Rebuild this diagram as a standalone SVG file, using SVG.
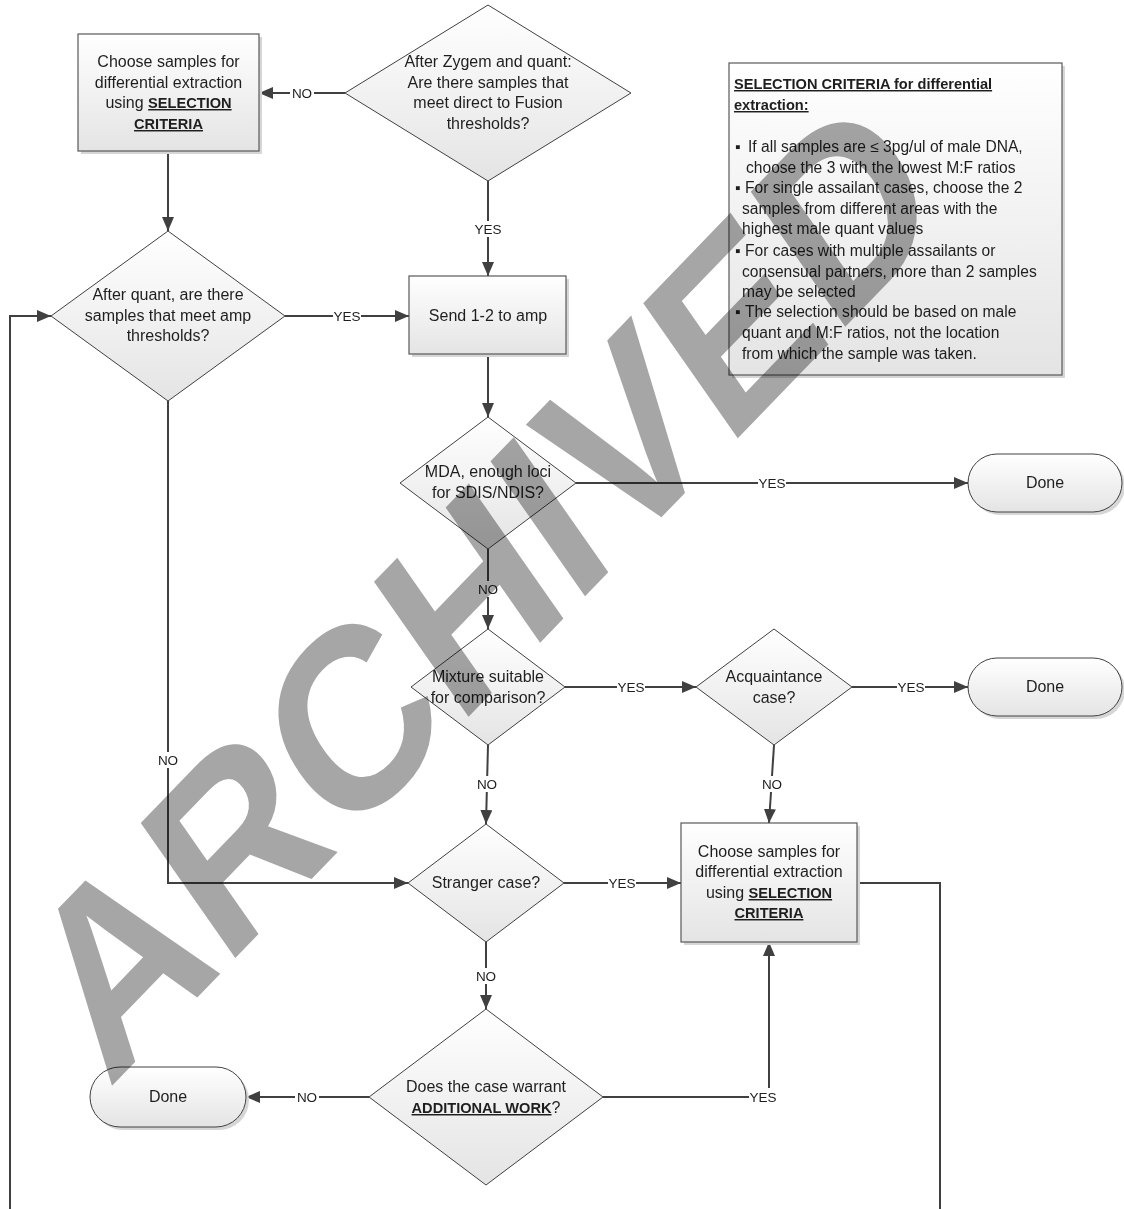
<svg xmlns="http://www.w3.org/2000/svg" width="1124" height="1209" viewBox="0 0 1124 1209">
<defs>
<linearGradient id="gFill" x1="0" y1="0" x2="0" y2="1">
<stop offset="0" stop-color="#ffffff"/>
<stop offset="1" stop-color="#e4e4e4"/>
</linearGradient>
<marker id="arr" markerUnits="userSpaceOnUse" markerWidth="14" markerHeight="12" refX="14" refY="6" orient="auto">
<path d="M0,0 L14,6 L0,12 z" fill="#404040"/>
</marker>
</defs>
<style>
.box{fill:url(#gFill);stroke:#595959;stroke-width:1.2}
.dia{fill:url(#gFill);stroke:#404040;stroke-width:1}
.term{fill:url(#gFill);stroke:#404040;stroke-width:1}
.shadow{fill:#d6d6d6}
.t{font-family:"Liberation Sans",Arial,sans-serif;font-size:16px;fill:#1e1e1e;text-anchor:middle}
.c{font-family:"Liberation Sans",Arial,"DejaVu Sans",sans-serif;font-size:15.6px;fill:#1e1e1e}
.ct{font-size:14.6px}
.b{font-weight:bold;text-decoration:underline}
.t .b{font-size:14.6px}
.con{fill:none;stroke:#404040;stroke-width:2}
.lb{fill:#ffffff}
.lt{font-family:"Liberation Sans",Arial,sans-serif;font-size:13.5px;fill:#1e1e1e;text-anchor:middle}
.wm{font-family:"Liberation Sans",Arial,sans-serif;font-weight:bold;font-size:212px;fill:#a6a6a6;mix-blend-mode:multiply}
</style>
<rect width="1124" height="1209" fill="#ffffff"/>

<g id="connectors">
<path class="con" d="M345,93 H259" marker-end="url(#arr)"/>
<path class="con" d="M168,151 V231" marker-end="url(#arr)"/>
<path class="con" d="M488,181 V276" marker-end="url(#arr)"/>
<path class="con" d="M285,316 H409" marker-end="url(#arr)"/>
<path class="con" d="M488,354 V417" marker-end="url(#arr)"/>
<path class="con" d="M576,483 H968" marker-end="url(#arr)"/>
<path class="con" d="M488,549 V629" marker-end="url(#arr)"/>
<path class="con" d="M565,687 H696" marker-end="url(#arr)"/>
<path class="con" d="M852,687 H968" marker-end="url(#arr)"/>
<path class="con" d="M488,745 L486,824" marker-end="url(#arr)"/>
<path class="con" d="M774,745 L769,823" marker-end="url(#arr)"/>
<path class="con" d="M168,401 V883 H408" marker-end="url(#arr)"/>
<path class="con" d="M564,883 H681" marker-end="url(#arr)"/>
<path class="con" d="M486,942 V1009" marker-end="url(#arr)"/>
<path class="con" d="M369,1097 H246" marker-end="url(#arr)"/>
<path class="con" d="M603,1097 H769 V942" marker-end="url(#arr)"/>
<path class="con" d="M857,883 H940 V1209"/>
<path class="con" d="M10,1209 V316 H51" marker-end="url(#arr)"/>
<g id="labels">
<rect class="lb" x="290" y="85" width="24" height="16"/><text class="lt" x="302" y="98">NO</text>
<rect class="lb" x="474" y="221" width="28" height="16"/><text class="lt" x="488" y="234">YES</text>
<rect class="lb" x="333" y="308" width="28" height="16"/><text class="lt" x="347" y="321">YES</text>
<rect class="lb" x="758" y="475" width="28" height="16"/><text class="lt" x="772" y="488">YES</text>
<rect class="lb" x="476" y="581" width="24" height="16"/><text class="lt" x="488" y="594">NO</text>
<rect class="lb" x="617" y="679" width="28" height="16"/><text class="lt" x="631" y="692">YES</text>
<rect class="lb" x="897" y="679" width="28" height="16"/><text class="lt" x="911" y="692">YES</text>
<rect class="lb" x="475" y="776" width="24" height="16"/><text class="lt" x="487" y="789">NO</text>
<rect class="lb" x="760" y="776" width="24" height="16"/><text class="lt" x="772" y="789">NO</text>
<rect class="lb" x="156" y="752" width="24" height="16"/><text class="lt" x="168" y="765">NO</text>
<rect class="lb" x="608" y="875" width="28" height="16"/><text class="lt" x="622" y="888">YES</text>
<rect class="lb" x="474" y="968" width="24" height="16"/><text class="lt" x="486" y="981">NO</text>
<rect class="lb" x="295" y="1089" width="24" height="16"/><text class="lt" x="307" y="1102">NO</text>
<rect class="lb" x="749" y="1088" width="29" height="17"/><text class="lt" x="763" y="1102">YES</text>
</g>
</g>

<g id="box-choose-1">
<rect class="shadow" x="81" y="37" width="181" height="117"/>
<rect class="box" x="78" y="34" width="181" height="117"/>
<text class="t" x="168.5" y="67">Choose samples for</text>
<text class="t" x="168.5" y="88">differential extraction</text>
<text class="t" x="168.5" y="108">using <tspan class="b">SELECTION</tspan></text>
<text class="t" x="168.5" y="129"><tspan class="b">CRITERIA</tspan></text>
</g>

<g id="dec-zygem">
<polygon class="dia" points="488,5 631,93 488,181 345,93"/>
<text class="t" x="488" y="67">After Zygem and quant:</text>
<text class="t" x="488" y="88">Are there samples that</text>
<text class="t" x="488" y="108">meet direct to Fusion</text>
<text class="t" x="488" y="129">thresholds?</text>
</g>

<g id="criteria">
<rect class="shadow" x="732" y="66" width="333" height="312"/>
<rect class="box" x="729" y="63" width="333" height="312"/>
<text class="c ct b" x="734" y="89">SELECTION CRITERIA for differential</text>
<text class="c ct b" x="734" y="110">extraction:</text>
<text class="c" x="735" y="152">▪</text><text class="c" x="748" y="152">If all samples are ≤ 3pg/ul of male DNA,</text>
<text class="c" x="746" y="173">choose the 3 with the lowest M:F ratios</text>
<text class="c" x="735" y="193">▪</text><text class="c" x="745" y="193">For single assailant cases, choose the 2</text>
<text class="c" x="742" y="214">samples from different areas with the</text>
<text class="c" x="742" y="234">highest male quant values</text>
<text class="c" x="735" y="256">▪</text><text class="c" x="745" y="256">For cases with multiple assailants or</text>
<text class="c" x="742" y="277">consensual partners, more than 2 samples</text>
<text class="c" x="742" y="297">may be selected</text>
<text class="c" x="735" y="317">▪</text><text class="c" x="745" y="317">The selection should be based on male</text>
<text class="c" x="742" y="338">quant and M:F ratios, not the location</text>
<text class="c" x="742" y="359">from which the sample was taken.</text>
</g>

<g id="dec-amp">
<polygon class="dia" points="168,231 285,316 168,401 51,316"/>
<text class="t" x="168" y="300">After quant, are there</text>
<text class="t" x="168" y="321">samples that meet amp</text>
<text class="t" x="168" y="341">thresholds?</text>
</g>

<g id="box-send">
<rect class="shadow" x="412" y="279" width="157" height="78"/>
<rect class="box" x="409" y="276" width="157" height="78"/>
<text class="t" x="488" y="321">Send 1-2 to amp</text>
</g>

<g id="dec-mda">
<polygon class="dia" points="488,417 576,483 488,549 400,483"/>
<text class="t" x="488" y="477">MDA, enough loci</text>
<text class="t" x="488" y="498">for SDIS/NDIS?</text>
</g>

<g id="done-1">
<rect class="shadow" x="971" y="457" width="154" height="58" rx="29"/>
<rect class="term" x="968" y="454" width="154" height="58" rx="29"/>
<text class="t" x="1045" y="488">Done</text>
</g>

<g id="dec-mixture">
<polygon class="dia" points="488,629 565,687 488,745 411,687"/>
<text class="t" x="488" y="682">Mixture suitable</text>
<text class="t" x="488" y="703">for comparison?</text>
</g>

<g id="dec-acq">
<polygon class="dia" points="774,629 852,687 774,745 696,687"/>
<text class="t" x="774" y="682">Acquaintance</text>
<text class="t" x="774" y="703">case?</text>
</g>

<g id="done-2">
<rect class="shadow" x="971" y="661" width="154" height="58" rx="29"/>
<rect class="term" x="968" y="658" width="154" height="58" rx="29"/>
<text class="t" x="1045" y="692">Done</text>
</g>

<g id="dec-stranger">
<polygon class="dia" points="486,824 564,883 486,942 408,883"/>
<text class="t" x="486" y="888">Stranger case?</text>
</g>

<g id="box-choose-2">
<rect class="shadow" x="684" y="826" width="176" height="119"/>
<rect class="box" x="681" y="823" width="176" height="119"/>
<text class="t" x="769" y="857">Choose samples for</text>
<text class="t" x="769" y="877">differential extraction</text>
<text class="t" x="769" y="898">using <tspan class="b">SELECTION</tspan></text>
<text class="t" x="769" y="918"><tspan class="b">CRITERIA</tspan></text>
</g>

<g id="dec-additional">
<polygon class="dia" points="486,1009 603,1097 486,1185 369,1097"/>
<text class="t" x="486" y="1092">Does the case warrant</text>
<text class="t" x="486" y="1113"><tspan class="b">ADDITIONAL WORK</tspan>?</text>
</g>

<g id="done-3">
<rect class="shadow" x="93" y="1070" width="156" height="60" rx="30"/>
<rect class="term" x="90" y="1067" width="156" height="60" rx="30"/>
<text class="t" x="168" y="1102">Done</text>
</g>

<g id="watermark">
<text class="wm" transform="translate(108,1090) scale(1,1.216) rotate(-40.4)" x="0" y="0">ARCHIVED</text>
</g>
</svg>
